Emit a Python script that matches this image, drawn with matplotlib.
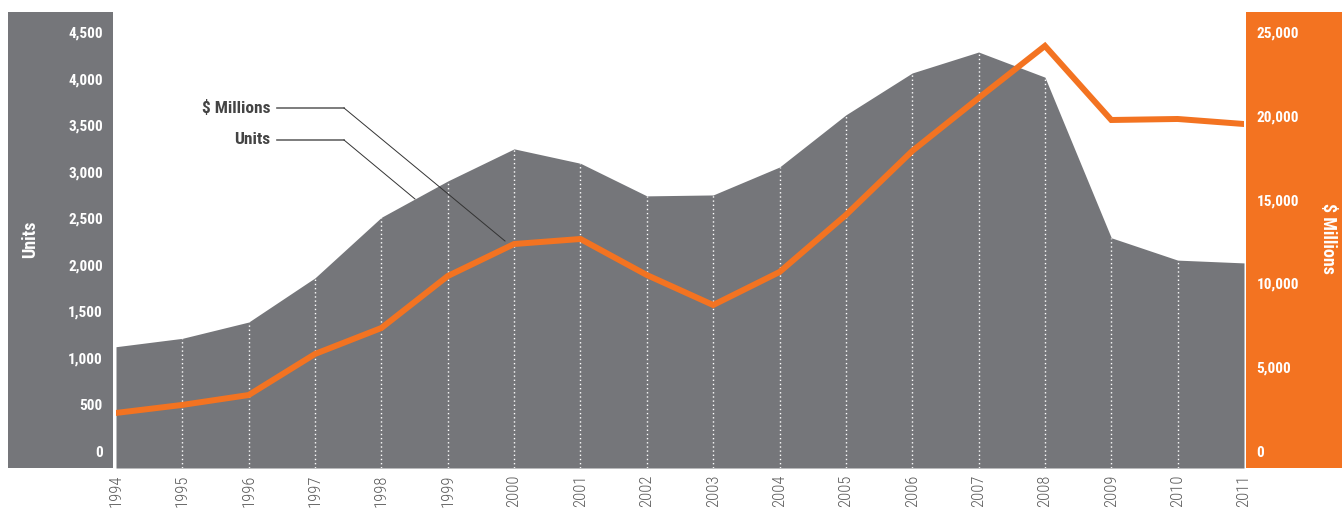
import matplotlib
matplotlib.use("Agg")
import matplotlib.pyplot as plt
from matplotlib import font_manager
from matplotlib.patches import Rectangle
from matplotlib.lines import Line2D

years = list(range(1994, 2012))
units = [1120, 1210, 1385, 1860, 2510, 2900, 3245, 3090, 2740, 2750,
         3050, 3610, 4060, 4285, 4015, 2290, 2050, 2020]
dollars = [2270, 2750, 3340, 5790, 7340, 10440, 12350, 12650, 10500, 8710,
           10680, 14080, 17900, 21060, 24170, 19750, 19810, 19510]
unit_ticks = [0, 500, 1000, 1500, 2000, 2500, 3000, 3500, 4000, 4500]
dollar_ticks = [0, 5000, 10000, 15000, 20000, 25000]

names = {f.name for f in font_manager.fontManager.ttflist}
cond = None
for cand in ["Liberation Sans Narrow", "Roboto Condensed", "Open Sans Condensed"]:
    if cand in names:
        cond = cand
        break
if cond is None:
    cond = "DejaVu Sans"
FONT = dict(family=cond, stretch="condensed")

GRAY = "#75767a"
ORANGE = "#f37321"
W, H = 1342, 511

fig = plt.figure(figsize=(W / 100, H / 100), dpi=100)
fig.patch.set_facecolor("white")

def fx(px):
    return px / W

def fy(py):
    return (H - py) / H

# side panels
fig.add_artist(Rectangle((fx(8), fy(468)), fx(113) - fx(8), fy(12) - fy(468),
                         transform=fig.transFigure, facecolor=GRAY, edgecolor="none", zorder=0))
fig.add_artist(Rectangle((fx(1246), fy(468)), 1 - fx(1246), fy(12) - fy(468),
                         transform=fig.transFigure, facecolor=ORANGE, edgecolor="none", zorder=0))

ax = fig.add_axes([fx(116), fy(468), fx(1244) - fx(116), fy(12) - fy(468)])
ax.patch.set_alpha(0)
upp = 4500 / (451 - 32)
ylo = (451 - 468) * upp
yhi = (451 - 12) * upp
ax.set_xlim(1994, 2011)
ax.set_ylim(ylo, yhi)
ax.fill_between(years, units, ylo, color=GRAY, linewidth=0, zorder=1)
ax.vlines(years[1:-1], ylo, units[1:-1], colors="white", linestyles=(0, (1, 2)), linewidth=1, zorder=2)

for s in ax.spines.values():
    s.set_visible(False)
ax.set_yticks(unit_ticks)
ax.set_yticklabels([f"{v:,}" for v in unit_ticks], color="white", fontweight="bold",
                   fontsize=11, **FONT)
ax.tick_params(axis="y", length=0, pad=9.5)
ax.set_xticks(years)
ax.set_xticklabels([str(y) for y in years], rotation=90, color="#5a5a5a",
                   fontsize=12, fontweight="light", va="top", **FONT)
ax.tick_params(axis="x", length=0, pad=5)

ax2 = ax.twinx()
ax2.patch.set_alpha(0)
dpp = 25000 / (451 - 32)
ax2.set_ylim((451 - 468) * dpp, (451 - 12) * dpp)
ax2.plot(years, dollars, color=ORANGE, linewidth=4.3, solid_joinstyle="miter", zorder=3)
for s in ax2.spines.values():
    s.set_visible(False)
ax2.set_yticks(dollar_ticks)
ax2.set_yticklabels([f"{v:,}" for v in dollar_ticks], color="white", fontweight="bold",
                    fontsize=11, **FONT)
ax2.tick_params(axis="y", length=0, pad=9)

fig.text(fx(30), fy(239), "Units", rotation=90, color="white", fontweight="bold",
         fontsize=13, ha="center", va="center", **FONT)
fig.text(fx(1328), fy(238), "$ Millions", rotation=-90, color="white", fontweight="bold",
         fontsize=13, ha="center", va="center", **FONT)

# annotation labels with leader lines
fig.text(fx(270), fy(108), "$ Millions", color="#444444", fontweight="bold", fontsize=12.5,
         ha="right", va="center", **FONT)
fig.text(fx(270), fy(140), "Units", color="#444444", fontweight="bold", fontsize=12.5,
         ha="right", va="center", **FONT)
fig.add_artist(Line2D([fx(277), fx(344)], [fy(108), fy(108)], transform=fig.transFigure,
                      color="#666666", linewidth=1.2))
fig.add_artist(Line2D([fx(344), fx(505)], [fy(108), fy(241)], transform=fig.transFigure,
                      color="#333333", linewidth=0.7))
fig.add_artist(Line2D([fx(277), fx(344)], [fy(140), fy(140)], transform=fig.transFigure,
                      color="#666666", linewidth=1.2))
fig.add_artist(Line2D([fx(344), fx(415)], [fy(140), fy(199)], transform=fig.transFigure,
                      color="#333333", linewidth=0.7))

fig.savefig("out.png", dpi=100)
